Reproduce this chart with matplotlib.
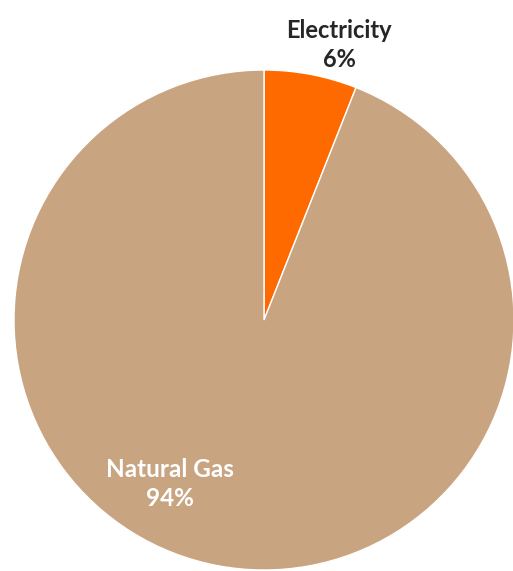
import matplotlib
matplotlib.use("Agg")
import matplotlib.pyplot as plt

categories = ["Electricity", "Natural Gas"]
values = [6, 94]
colors = ["#FF6A00", "#C9A480"]

fig = plt.figure(figsize=(5.13, 5.71), dpi=100)
W, H = 513, 571
cx, cy, r = 264, 320, 250
ax = fig.add_axes([(cx - r) / W, (H - cy - r) / H, 2 * r / W, 2 * r / H])
ax.pie(values, colors=colors, startangle=90, counterclock=False,
       wedgeprops=dict(edgecolor="white", linewidth=1.0))
ax.set_xlim(-1, 1)
ax.set_ylim(-1, 1)
ax.set_aspect("equal")
ax.axis("off")
ax.set_clip_on(False)

font = ["Lato", "DejaVu Sans"]
ax.text((339 - cx) / r, (cy - 45) / r, f"{categories[0]}\n{values[0]}%",
        ha="center", va="center", fontsize=17, fontweight="bold",
        color="#262626", family=font, linespacing=1.3, clip_on=False)
ax.text((170 - cx) / r, (cy - 484) / r, f"{categories[1]}\n{values[1]}%",
        ha="center", va="center", fontsize=17.5, fontweight="bold",
        color="white", family=font, linespacing=1.3, clip_on=False)

fig.savefig("out.png", dpi=100)
